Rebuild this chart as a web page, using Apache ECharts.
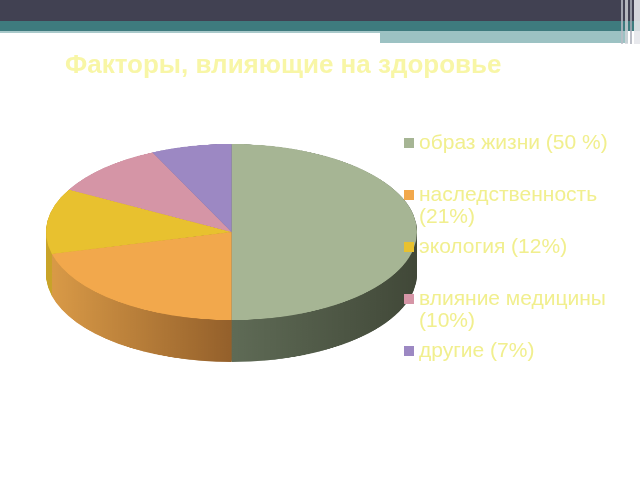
<!DOCTYPE html>
<html>
<head>
<meta charset="utf-8">
<script src="https://cdn.jsdelivr.net/npm/echarts@6/dist/echarts.min.js"></script>
<style>
  html, body { margin: 0; padding: 0; background: #fff; }
  #wrap { position: relative; width: 640px; height: 480px; overflow: hidden; }
  /* пирог рисуется круглым, а потом сжимается по вертикали -> эллипс */
  #pie { position: absolute; left: 0; top: 0; width: 640px; height: 1012px;
         transform: scaleY(0.4744); transform-origin: 0 0; }
  #front { position: absolute; left: 0; top: 0; width: 640px; height: 480px; }
</style>
</head>
<body>
<div id="wrap">
  <div id="pie"></div>
  <div id="front"></div>
</div>
<script>
// данные
var categories = ['образ жизни (50 %)', 'наследственность (21%)', 'экология (12%)', 'влияние медицины (10%)', 'другие (7%)'];
var values = [50, 21, 12, 10, 7];
var colors = ['#a6b594', '#f2a84c', '#e8c12f', '#d595a6', '#9c88c3'];
// боковая стенка: [светлый край, тёмный край]
var wallColors = [['#5f6b56', '#414838'], ['#d99a47', '#94602b'], ['#c9a429', '#a98a22'], ['#b67f8d', '#9a6a77'], ['#8372a6', '#6d5f8b']];
var titleText = 'Факторы, влияющие на здоровье';

var SCALE = 0.4744;
var R = 185.5;
var cx = 231.5;
var cy = 232 / SCALE;
var depth = 42 / SCALE;

// 3D-пирог
(function () {
  var myChart = echarts.init(document.getElementById('pie'));

  function makeData(top) {
    return values.map(function (v, i) {
      var color = top ? colors[i] : {
        type: 'linear', x: 0, y: 0, x2: 1, y2: 0,
        colorStops: [
          { offset: 0, color: wallColors[i][0] },
          { offset: 1, color: wallColors[i][1] }
        ]
      };
      return { name: categories[i], value: v, itemStyle: { color: color } };
    });
  }

  var series = [];
  // слои стенки, от нижнего к верхнему
  for (var off = depth; off > 0; off -= 1.5) {
    series.push({
      type: 'pie',
      silent: true,
      animation: false,
      startAngle: 90,
      clockwise: true,
      center: [cx, cy + off],
      radius: [0, R],
      label: { show: false },
      labelLine: { show: false },
      itemStyle: { borderWidth: 0 },
      data: makeData(false)
    });
  }
  // верхняя крышка
  series.push({
    type: 'pie',
    silent: true,
    animation: false,
    startAngle: 90,
    clockwise: true,
    center: [cx, cy],
    radius: [0, R],
    label: { show: false },
    labelLine: { show: false },
    itemStyle: { borderWidth: 0 },
    data: makeData(true)
  });

  myChart.setOption({ series: series });
})();

// заголовок, легенда и полоса сверху
(function () {
  var myChart = echarts.init(document.getElementById('front'));
  // длинные подписи переносятся; пустая первая строка держит маркер у первой строки текста
  var twoLine = { 'наследственность (21%)': '\nнаследственность\n(21%)', 'влияние медицины (10%)': '\nвлияние медицины\n(10%)' };

  var option = {
    title: {
      text: titleText,
      left: 60,
      top: 48,
      textStyle: {
        color: '#f8f6a6',
        fontFamily: 'Liberation Sans',
        fontWeight: 'bold',
        fontSize: 26
      }
    },
    legend: {
      orient: 'vertical',
      left: 404,
      top: 132,
      padding: 0,
      itemGap: 8,
      itemWidth: 10,
      itemHeight: 10,
      icon: 'rect',
      selectedMode: false,
      formatter: function (name) {
        return twoLine[name] || name;
      },
      textStyle: {
        color: '#f1ef8e',
        fontFamily: 'Liberation Sans',
        fontSize: 21,
        lineHeight: 22
      },
      data: categories
    },
    graphic: [
      { type: 'rect', shape: { x: 0, y: 0, width: 640, height: 21 }, style: { fill: '#414152' } },
      { type: 'rect', shape: { x: 0, y: 21, width: 640, height: 10 }, style: { fill: '#3e7b7e' } },
      { type: 'rect', shape: { x: 0, y: 31, width: 380, height: 2 }, style: { fill: '#a9c9ca' } },
      { type: 'rect', shape: { x: 380, y: 31, width: 248, height: 12 }, style: { fill: '#9cc2c3' } },
      { type: 'rect', shape: { x: 621, y: 0, width: 2, height: 44 }, style: { fill: '#b9bcc6', opacity: 0.8 } },
      { type: 'rect', shape: { x: 625, y: 0, width: 3, height: 44 }, style: { fill: '#d2d4da', opacity: 0.8 } },
      { type: 'rect', shape: { x: 630, y: 0, width: 2, height: 44 }, style: { fill: '#a9acb8', opacity: 0.8 } },
      { type: 'rect', shape: { x: 634, y: 0, width: 6, height: 44 }, style: { fill: '#e6e7eb', opacity: 0.9 } }
    ],
    series: [
      {
        // только для цветов легенды, сам пирог в слое #pie
        type: 'pie',
        silent: true,
        animation: false,
        radius: [0, 0],
        label: { show: false },
        labelLine: { show: false },
        data: categories.map(function (c, i) {
          return { name: c, value: values[i], itemStyle: { color: colors[i] } };
        })
      }
    ]
  };
  myChart.setOption(option);
})();
</script>
</body>
</html>
